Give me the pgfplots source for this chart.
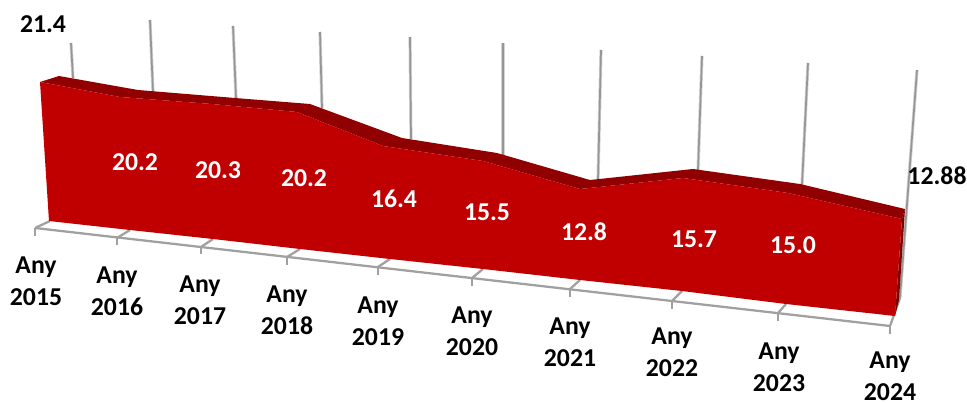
\documentclass[border=0pt]{standalone}
\usepackage{fontspec}
\setmainfont{Carlito}
\usepackage{pgfplots}
\pgfplotsset{compat=1.18}
\definecolor{redfront}{HTML}{C00000}
\definecolor{redtop}{HTML}{900000}
\definecolor{redside}{HTML}{7A0000}
\definecolor{gridgray}{HTML}{969696}
\definecolor{halo}{HTML}{D4D4D4}
\tikzset{lab/.style={font=\fontsize{19.3}{24}\selectfont\bfseries, inner sep=0pt},
  val/.style={lab, text=white}, dark/.style={lab, text=black},
  cat/.style={lab, text=black, align=center}}
\begin{document}
\begin{tikzpicture}
\path[use as bounding box] (0,0) rectangle (725.25pt,302.25pt);
\begin{axis}[
  at={(0,0)}, anchor=south west, scale only axis,
  width=725.25pt, height=302.25pt,
  xmin=0, xmax=967, ymin=0, ymax=403, y dir=reverse,
  hide axis, clip=false,
  grid line/.style={halo, line width=2.4pt},
  grid core/.style={gridgray, line width=1.3pt},
  floor/.style={gridgray!90, line width=1.7pt},
]
% back wall grid lines
\addplot[grid line] coordinates {(71,43) (73,78)};
\addplot[grid core] coordinates {(71,43) (73,78)};
\addplot[grid line] coordinates {(150,20) (153,92)};
\addplot[grid core] coordinates {(150,20) (153,92)};
\addplot[grid line] coordinates {(233,26) (236,98)};
\addplot[grid core] coordinates {(233,26) (236,98)};
\addplot[grid line] coordinates {(320,32) (322,108)};
\addplot[grid core] coordinates {(320,32) (322,108)};
\addplot[grid line] coordinates {(410,37) (411,139)};
\addplot[grid core] coordinates {(410,37) (411,139)};
\addplot[grid line] coordinates {(503,43) (503,155)};
\addplot[grid core] coordinates {(503,43) (503,155)};
\addplot[grid line] coordinates {(601,50) (598,180)};
\addplot[grid core] coordinates {(601,50) (598,180)};
\addplot[grid line] coordinates {(702,56) (698,170)};
\addplot[grid core] coordinates {(702,56) (698,170)};
\addplot[grid line] coordinates {(808,63) (802,185)};
\addplot[grid core] coordinates {(808,63) (802,185)};
\addplot[grid line] coordinates {(917,70) (900,298)};
\addplot[grid core] coordinates {(917,70) (900,298)};
% floor
\addplot[floor] coordinates {(35,228) (890,326)};
\addplot[floor] coordinates {(890,326) (900,298)};
\addplot[floor] coordinates {(35,228) (50,221)};
\addplot[floor] coordinates {(35,228) (35,236)};
\addplot[floor] coordinates {(117,238) (130,230)};
\addplot[floor] coordinates {(117,238) (117,245)};
\addplot[floor] coordinates {(201,247) (213,239)};
\addplot[floor] coordinates {(201,247) (201,254)};
\addplot[floor] coordinates {(287,257) (300,249)};
\addplot[floor] coordinates {(287,257) (287,265)};
\addplot[floor] coordinates {(378,267) (390,259)};
\addplot[floor] coordinates {(378,267) (378,275)};
\addplot[floor] coordinates {(472,278) (483,269)};
\addplot[floor] coordinates {(472,278) (472,286)};
\addplot[floor] coordinates {(570,289) (580,280)};
\addplot[floor] coordinates {(570,289) (570,297)};
\addplot[floor] coordinates {(672,301) (682,291)};
\addplot[floor] coordinates {(672,301) (672,309)};
\addplot[floor] coordinates {(778,313) (786,304)};
\addplot[floor] coordinates {(778,313) (778,321)};
\addplot[floor] coordinates {(890,326) (890,334)};
% top surface of the area
\addplot[fill=redtop, draw=none] coordinates {
 (40,82) (59,76) (138,90) (235,98) (310,104) (402,138) (497,153) (590,180) (693,169) (800,184) (905,209)
 (902,219) (788,193) (683,178) (580,189) (483,161) (383,146) (297,112) (212,104) (120,97)
} -- cycle;
% right side
\addplot[fill=redside, draw=none] coordinates {(902,219) (905,209) (899,300) (895,316)} -- cycle;
% front face
\addplot[fill=redfront, draw=none] coordinates {
 (40,82) (120,97) (212,104) (297,112) (383,146) (483,161) (580,189) (683,178) (788,193) (902,219)
 (895,316) (786,304) (682,291) (580,280) (483,269) (390,259) (300,249) (213,239) (130,230) (49,221)
} -- cycle;
% value labels
\node[dark] at (axis cs:43,24) {21.4};
\node[val] at (axis cs:135,162) {20.2};
\node[val] at (axis cs:218,170) {20.3};
\node[val] at (axis cs:304,178) {20.2};
\node[val] at (axis cs:394,199) {16.4};
\node[val] at (axis cs:487,212) {15.5};
\node[val] at (axis cs:584,232) {12.8};
\node[val] at (axis cs:694,239) {15.7};
\node[val] at (axis cs:793,245) {15.0};
\node[dark] at (axis cs:937,176) {12.88};
% category labels
\node[cat] at (axis cs:36,281) {Any\\2015};
\node[cat] at (axis cs:117,291) {Any\\2016};
\node[cat] at (axis cs:200,300) {Any\\2017};
\node[cat] at (axis cs:287,310) {Any\\2018};
\node[cat] at (axis cs:378,321) {Any\\2019};
\node[cat] at (axis cs:472,331) {Any\\2020};
\node[cat] at (axis cs:570,342) {Any\\2021};
\node[cat] at (axis cs:672,352) {Any\\2022};
\node[cat] at (axis cs:779,367) {Any\\2023};
\node[cat] at (axis cs:890,376) {Any\\2024};
\end{axis}
\end{tikzpicture}
\end{document}
